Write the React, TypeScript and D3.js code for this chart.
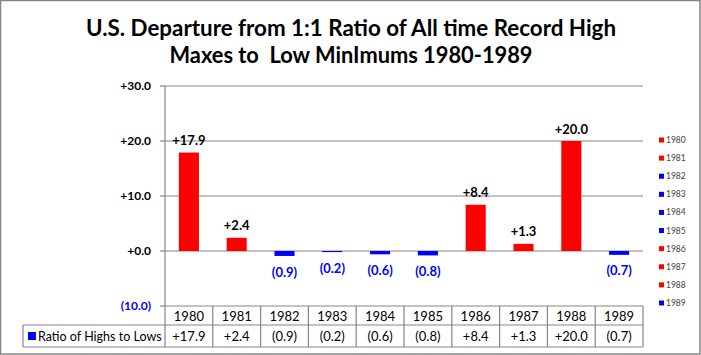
import React from "react";
import * as d3 from "d3";

const years = ["1980", "1981", "1982", "1983", "1984", "1985", "1986", "1987", "1988", "1989"];
const values = [17.9, 2.4, -0.9, -0.2, -0.6, -0.8, 8.4, 1.3, 20.0, -0.7];
const yTicks = [-10, 0, 10, 20, 30];
const seriesName = "Ratio of Highs to Lows";
const titleLines = ["U.S. Departure from 1:1 Ratio of All time Record High", "Maxes to  Low MinImums 1980-1989"];
const titleWidths = [530, 363];

const W = 701, H = 355;
const FONT = "Lato, 'Open Sans', Arial, sans-serif";
const RED = "#FF0000", BLUE = "#0000FF", GRID = "#868686";

const fmt = (v: number) => (v < 0 ? `(${Math.abs(v).toFixed(1)})` : `+${v.toFixed(1)}`);

export default function App() {
  const left = 165, right = 643, top = 86, bottom = 306;
  const x = d3.scaleBand<string>().domain(years).range([left, right]).paddingInner(0.58).paddingOuter(0.29);
  const y = d3.scaleLinear().domain([-10, 30]).range([bottom, top]);
  const step = x.step();
  const row1 = 325, row2 = 347;
  const legendY = d3.scaleLinear().domain([0, years.length - 1]).range([140, 303]);

  return (
    <svg width={W} height={H} style={{ position: "absolute", left: 0, top: 0, background: "#fff" }} fontFamily={FONT}>
      <rect x={0.5} y={0.5} width={W - 1.5} height={H - 1.5} fill="#fff" stroke="#868686" strokeWidth={1.5} />
      {titleLines.map((t, i) => (
        <text key={i} x={351} y={36 + i * 27} textAnchor="middle" fontSize={22} fontWeight="bold" fill="#000"
          style={{ whiteSpace: "pre" }} textLength={titleWidths[i]} lengthAdjust="spacingAndGlyphs">{t}</text>
      ))}
      {yTicks.map((t) => (
        <g key={t}>
          {t >= 0 && <line x1={left} x2={right} y1={y(t)} y2={y(t)} stroke={GRID} strokeWidth={1.2} />}
          <line x1={left - 5} x2={left} y1={y(t)} y2={y(t)} stroke={GRID} strokeWidth={1.2} />
          <text x={151} y={y(t)} dy="0.35em" textAnchor="end" fontSize={12} fontWeight="bold" fill={t < 0 ? BLUE : "#000"}>{fmt(t)}</text>
        </g>
      ))}
      <line x1={left} x2={left} y1={top} y2={row2} stroke={GRID} strokeWidth={1.2} />
      {years.map((yr, i) => {
        const v = values[i];
        const y0 = y(0), y1 = y(v);
        return (
          <g key={yr}>
            <rect x={x(yr)} y={Math.min(y0, y1)} width={x.bandwidth()} height={Math.max(Math.abs(y1 - y0), 0.8)} fill={v < 0 ? BLUE : RED} />
            <text x={(x(yr) as number) + x.bandwidth() / 2} y={v < 0 ? y1 + 16 : y1 - 12} dy="0.35em" textAnchor="middle" fontSize={13} fontWeight="bold" fill={v < 0 ? BLUE : "#000"}>{fmt(v)}</text>
          </g>
        );
      })}
      <line x1={left} x2={right} y1={bottom} y2={bottom} stroke={GRID} strokeWidth={1.2} />
      <line x1={23} x2={right} y1={row1} y2={row1} stroke={GRID} strokeWidth={1.2} />
      <line x1={23} x2={right} y1={row2} y2={row2} stroke={GRID} strokeWidth={1.2} />
      <line x1={23} x2={23} y1={row1} y2={row2} stroke={GRID} strokeWidth={1.2} />
      {years.map((yr, i) => (
        <g key={yr}>
          <line x1={left + (i + 1) * step} x2={left + (i + 1) * step} y1={bottom} y2={row2} stroke={GRID} strokeWidth={1.2} />
          <text x={left + (i + 0.5) * step} y={(bottom + row1) / 2 + 1} dy="0.36em" textAnchor="middle" fontSize={13} fill="#000">{yr}</text>
          <text x={left + (i + 0.5) * step} y={(row1 + row2) / 2} dy="0.36em" textAnchor="middle" fontSize={13} fill="#000">{fmt(values[i])}</text>
        </g>
      ))}
      <rect x={28} y={(row1 + row2) / 2 - 4} width={8} height={8} fill={BLUE} />
      <text x={38} y={(row1 + row2) / 2} dy="0.36em" fontSize={12.5} fill="#000">{seriesName}</text>
      {years.map((yr, i) => (
        <g key={yr}>
          <rect x={659} y={legendY(i) - 2.5} width={5} height={5} fill={values[i] < 0 ? BLUE : RED} />
          <text x={666} y={legendY(i)} dy="0.35em" fontSize={8.5} fill="#404040">{yr}</text>
        </g>
      ))}
    </svg>
  );
}
